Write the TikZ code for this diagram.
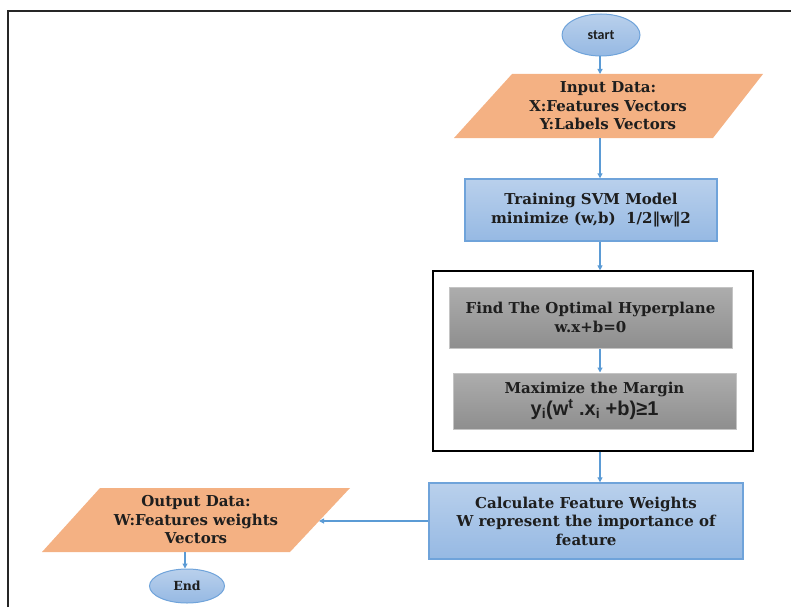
\documentclass[tikz,border=0pt]{standalone}
\usepackage{fontspec}
\setmainfont{DejaVu Serif}
\newfontfamily\formulafont{Liberation Sans}
\newfontfamily\termfont{Carlito}
\usetikzlibrary{shapes.geometric,arrows.meta}

\definecolor{flowline}{HTML}{5B9BD5}
\definecolor{ioorange}{HTML}{F4B183}
\definecolor{boxtop}{HTML}{B9D0EC}
\definecolor{boxbot}{HTML}{96B9E3}
\definecolor{boxedge}{HTML}{6FA3DA}
\definecolor{graytop}{HTML}{ADADAD}
\definecolor{graybot}{HTML}{8E8E8E}
\definecolor{grayedge}{HTML}{C4C4C4}
\definecolor{inktext}{HTML}{1E1E1E}

\tikzset{
  maintext/.style={font=\bfseries\fontsize{15}{18.5}\selectfont, text=inktext, align=center},
  terminal/.style={ellipse, shading=axis, top color=boxtop, bottom color=boxbot,
                   draw=boxedge, line width=1pt, inner sep=0pt, text=inktext},
  procbox/.style={rectangle, shading=axis, top color=boxtop, bottom color=boxbot,
                  draw=boxedge, line width=1.4pt, inner sep=0pt, maintext},
  graybox/.style={rectangle, shading=axis, top color=graytop, bottom color=graybot,
                  draw=grayedge, line width=1pt, inner sep=0pt, maintext},
  iofill/.style={fill=ioorange, draw=none},
  flow/.style={draw=flowline, line width=1.1pt, -{Triangle[length=5pt,width=5pt]}},
}

\begin{document}
\begin{tikzpicture}[x=1pt, y=-1pt]
  \useasboundingbox (0,0) rectangle (791,607);

  % page frame
  \draw[line width=1.8pt, black!85] (8,607) -- (8,11) -- (791,11);

  % axis of the main vertical flow
  \coordinate (axis) at (600,0);

  % start terminal
  \node[terminal, minimum width=78, minimum height=42,
        font=\termfont\bfseries\fontsize{14}{16}\selectfont] (start) at (601,35) {start};

  % input data parallelogram
  \fill[iofill] (454,138) -- (713,138) -- (763,74) -- (512,74) -- cycle;
  \coordinate (inTop) at (600,74);
  \coordinate (inBot) at (600,138);
  \node[maintext] (in) at (608,106) {Input Data:\\X:Features Vectors\\Y:Labels Vectors};

  % training step
  \node[procbox, minimum width=252, minimum height=62] (train) at (591,210)
    {Training SVM Model\\minimize (w,b)\ \ 1/2‖w‖2};

  % enclosing frame for the optimisation steps
  \node[draw=black, line width=1.2pt, minimum width=320, minimum height=180,
        inner sep=0pt] (outer) at (593,361) {};

  \node[graybox, minimum width=283, minimum height=61] (hyp) at (590.5,317.5)
    {Find The Optimal Hyperplane\\w.x+b=0};

  \node[graybox, minimum width=283, minimum height=56] (marg) at (594.5,401)
    {Maximize the Margin\\[1pt]{\formulafont\bfseries\fontsize{20}{22}\selectfont
      y\textsubscript{i}(w\textsuperscript{t} .x\textsubscript{i} +b)≥1}};

  % feature weights step
  \node[procbox, minimum width=314, minimum height=76] (calc) at (586,521)
    {Calculate Feature Weights\\W represent the importance of\\feature};

  % output data parallelogram
  \fill[iofill] (42,552) -- (290,552) -- (350,488) -- (100,488) -- cycle;
  \coordinate (outR) at (319,521);
  \coordinate (outBot) at (185,552);
  \node[maintext] (out) at (196,520) {Output Data:\\W:Features weights\\Vectors};

  % end terminal
  \node[terminal, minimum width=75, minimum height=34,
        font=\bfseries\fontsize{12.5}{14}\selectfont] (end) at (187,586) {End};

  % connectors
  \draw[flow] (start.south -| axis) -- (inTop);
  \draw[flow] (inBot) -- (train.north -| axis);
  \draw[flow] (train.south -| axis) -- (outer.north -| axis);
  \draw[flow] (hyp.south -| axis) -- (marg.north -| axis);
  \draw[flow] (outer.south -| axis) -- (calc.north -| axis);
  \draw[flow] (calc.west) -- (outR);
  \draw[flow] (outBot) -- (end.north -| outBot);
\end{tikzpicture}
\end{document}
